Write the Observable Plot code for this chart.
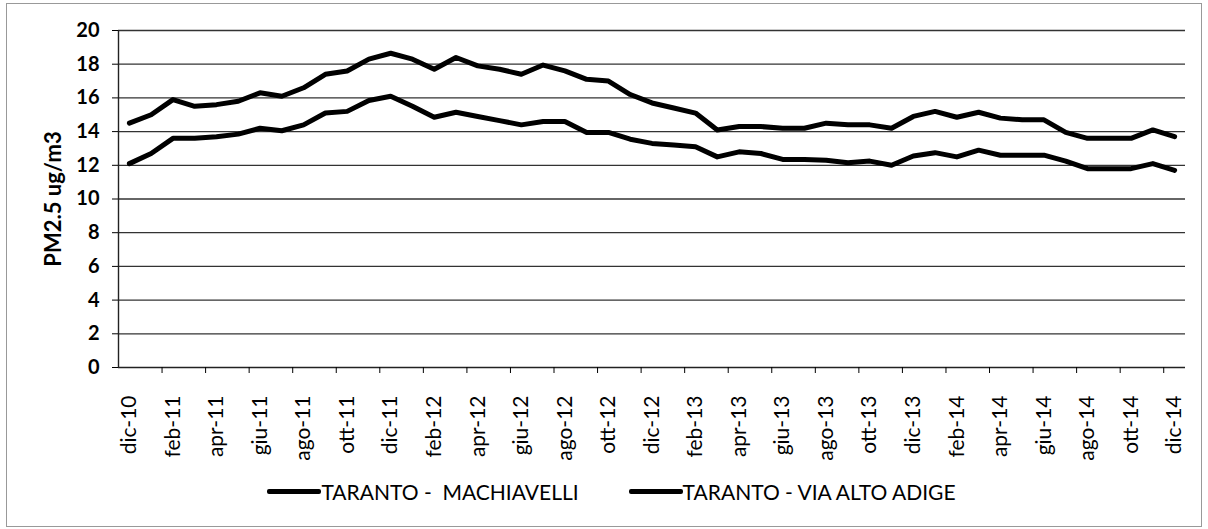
<!DOCTYPE html>
<html>
<head>
<meta charset="utf-8">
<script src="https://cdn.jsdelivr.net/npm/d3@7"></script>
<script src="https://cdn.jsdelivr.net/npm/@observablehq/plot@0.6"></script>
<style>
  html, body { margin: 0; padding: 0; background: #fff; }
  #frame {
    position: absolute; left: 6px; top: 3px; width: 1194px; height: 522px;
    border: 1px solid #999; background: #fff; font-family: Lato, "Open Sans", sans-serif;
  }
  #legend {
    display: flex; justify-content: center; align-items: center; gap: 50px;
    padding-top: 9px; height: 24px; font-size: 21px; color: #000; padding-left: 15px;
  }
  .item { display: flex; align-items: center; }
  .swatch { width: 54px; height: 5px; background: #000; border-radius: 2px; }
</style>
</head>
<body>
<div id="frame">
  <div id="chart"></div>
  <div id="legend"></div>
</div>
<script>
const months = ["dic-10","gen-11","feb-11","mar-11","apr-11","mag-11","giu-11","lug-11","ago-11","set-11","ott-11","nov-11",
  "dic-11","gen-12","feb-12","mar-12","apr-12","mag-12","giu-12","lug-12","ago-12","set-12","ott-12","nov-12",
  "dic-12","gen-13","feb-13","mar-13","apr-13","mag-13","giu-13","lug-13","ago-13","set-13","ott-13","nov-13",
  "dic-13","gen-14","feb-14","mar-14","apr-14","mag-14","giu-14","lug-14","ago-14","set-14","ott-14","nov-14",
  "dic-14"];
const seriesNames = ["TARANTO -  MACHIAVELLI", "TARANTO - VIA ALTO ADIGE"];
const machiavelli = [14.5,15.0,15.9,15.5,15.6,15.8,16.3,16.1,16.6,17.4,
  17.6,18.3,18.65,18.3,17.7,18.4,17.9,17.7,17.4,17.95,
  17.6,17.1,17.0,16.2,15.7,15.4,15.1,14.1,14.3,14.3,
  14.2,14.2,14.5,14.4,14.4,14.2,14.9,15.2,14.85,15.15,
  14.8,14.7,14.7,13.95,13.6,13.6,13.6,14.1,13.7];
const altoAdige = [12.1,12.7,13.6,13.6,13.7,13.85,14.2,14.05,14.4,15.1,
  15.2,15.85,16.1,15.5,14.85,15.15,14.9,14.65,14.4,14.6,
  14.6,13.95,13.95,13.55,13.3,13.2,13.1,12.5,12.8,12.7,
  12.35,12.35,12.3,12.15,12.25,12.0,12.55,12.75,12.5,12.9,
  12.6,12.6,12.6,12.25,11.8,11.8,11.8,12.1,11.7];
const yTicks = [0,2,4,6,8,10,12,14,16,18,20];

const data = [];
months.forEach((m, i) => {
  data.push({i, month: m, value: machiavelli[i], series: seriesNames[0]});
  data.push({i, month: m, value: altoAdige[i], series: seriesNames[1]});
});
const n = months.length;
const labelIdx = d3.range(0, n, 2);
const boundaries = d3.range(-0.5, n - 1, 2).slice(1);

const chart = Plot.plot({
  width: 1194,
  height: 466,
  marginTop: 26,
  marginBottom: 103,
  marginLeft: 111,
  marginRight: 16,
  style: {fontFamily: "Lato, 'Open Sans', sans-serif", background: "#fff", color: "#000"},
  x: {domain: [-0.5, n - 0.5]},
  y: {domain: [0, 20]},
  marks: [
    Plot.ruleY(yTicks.filter(d => d > 0), {stroke: "#333", strokeWidth: 1.3}),
    Plot.ruleY([0], {stroke: "#222", strokeWidth: 1.4}),
    Plot.ruleX([-0.5], {y1: 0, y2: 20, stroke: "#222", strokeWidth: 1.4}),
    Plot.axisY({ticks: yTicks, tickSize: 6, tickPadding: 13, fontSize: 20, fontWeight: "bold",
      label: "PM2.5 ug/m3", labelAnchor: "center", labelArrow: "none", labelOffset: 73}),
    Plot.axisX({ticks: boundaries, tickSize: 6, tickFormat: () => "", label: null}),
    Plot.axisX({ticks: labelIdx, tickSize: 0, tickPadding: 28, tickRotate: -90,
      tickFormat: i => months[i], fontSize: 21, label: null}),
    Plot.line(data, {x: "i", y: "value", z: "series", stroke: "#000", strokeWidth: 5,
      strokeLinejoin: "round", strokeLinecap: "round"})
  ]
});
chart.querySelectorAll("text").forEach(t => {
  if (t.textContent.includes("PM2.5")) { t.style.fontWeight = "bold"; t.style.fontSize = "22px"; }
});
document.getElementById("chart").appendChild(chart);

const legend = document.getElementById("legend");
seriesNames.forEach(name => {
  const item = document.createElement("div");
  item.className = "item";
  const sw = document.createElement("div");
  sw.className = "swatch";
  const tx = document.createElement("span");
  tx.textContent = name;
  tx.style.whiteSpace = "pre";
  item.appendChild(sw);
  item.appendChild(tx);
  legend.appendChild(item);
});
</script>
</body>
</html>
